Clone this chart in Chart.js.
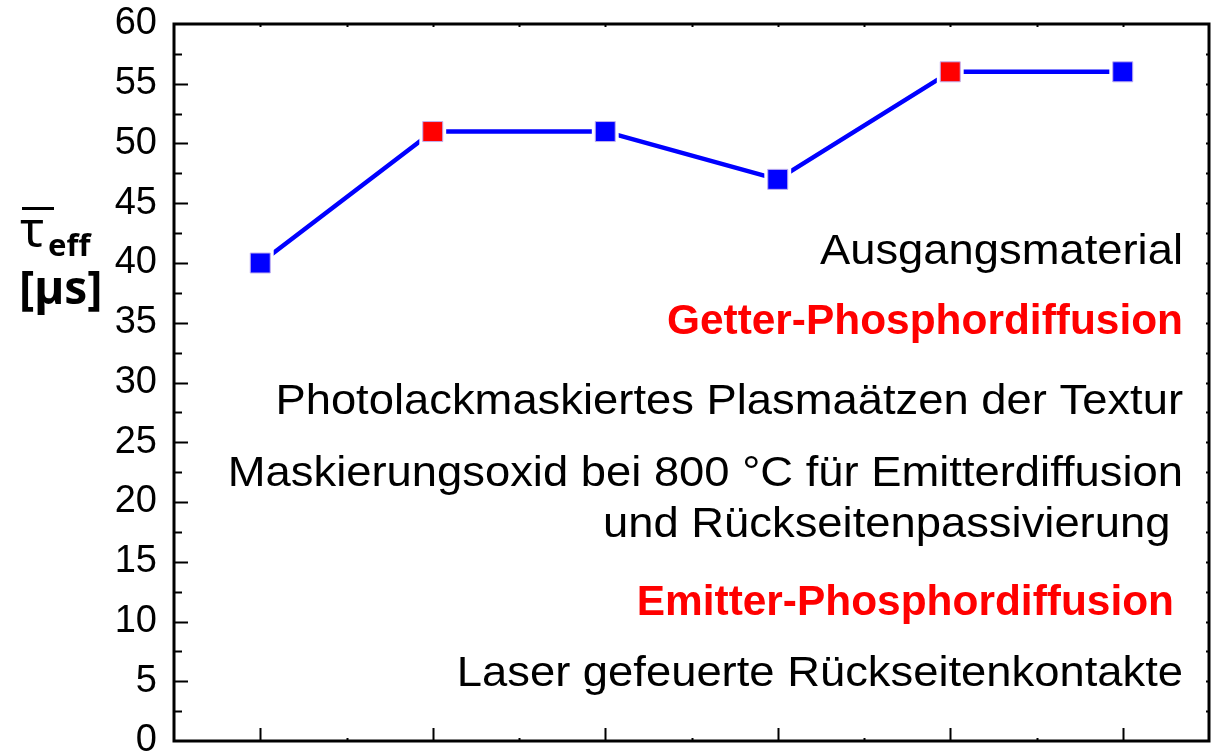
<!DOCTYPE html>
<html>
<head>
<meta charset="utf-8">
<script src="https://cdn.jsdelivr.net/npm/chart.js@4"></script>
<style>
  html, body { margin: 0; padding: 0; background: #fff; }
  canvas { display: block; }
</style>
</head>
<body>
<canvas id="c" width="1216" height="752"></canvas>
<script>
// Process steps in order (one point per step); "\n" splits a step over two lines
const steps = [
  'Ausgangsmaterial',
  'Getter-Phosphordiffusion',
  'Photolackmaskiertes Plasmaätzen der Textur',
  'Maskierungsoxid bei 800 °C für Emitterdiffusion\nund Rückseitenpassivierung ',
  'Emitter-Phosphordiffusion',
  'Laser gefeuerte Rückseitenkontakte'
];
// Mean effective lifetime after each step [µs]
const lifetime = [40, 51, 51, 47, 56, 56];
// Y axis
const yMin = 0, yMax = 60, yStep = 5;

const BLUE = '#0000ff', RED = '#ff0000';
const isDiffusion = s => s.includes('Phosphordiffusion');
const markerColors = steps.map(s => isDiffusion(s) ? RED : BLUE);

const FRAME = { left: 174, top: 24, right: 1209, bottom: 741 };

// Pin the plot area to a fixed box
const areaPlugin = {
  id: 'fixedArea',
  afterLayout(chart) {
    const ca = chart.chartArea;
    ca.left = FRAME.left; ca.top = FRAME.top; ca.right = FRAME.right; ca.bottom = FRAME.bottom;
    ca.width = FRAME.right - FRAME.left; ca.height = FRAME.bottom - FRAME.top;
    const { x, y } = chart.scales;
    Object.assign(y, { left: 0, right: FRAME.left, width: FRAME.left,
                       top: FRAME.top, bottom: FRAME.bottom, height: ca.height });
    y.configure();
    Object.assign(x, { left: FRAME.left, right: FRAME.right, width: ca.width,
                       top: FRAME.bottom, bottom: FRAME.bottom, height: 0 });
    x.configure();
  }
};

// Box frame with inward ticks on all four sides
const framePlugin = {
  id: 'frame',
  afterDraw(chart) {
    const { ctx, scales: { x, y } } = chart;
    const a = chart.chartArea;
    ctx.save();
    ctx.strokeStyle = '#000';
    ctx.lineWidth = 3;
    ctx.lineCap = 'butt';
    ctx.strokeRect(a.left, a.top, a.right - a.left, a.bottom - a.top);
    ctx.beginPath();
    for (let v = yMin + yStep / 2; v < yMax - 1e-9; v += yStep / 2) {
      const py = Math.round(y.getPixelForValue(v)) + 0.5;
      const major = Math.abs(v / yStep - Math.round(v / yStep)) < 1e-6;
      ctx.moveTo(a.left, py); ctx.lineTo(a.left + (major ? 14 : 8), py);
      ctx.moveTo(a.right, py); ctx.lineTo(a.right - 3, py);
    }
    for (let i = 0; i < steps.length; i++) {
      const px = Math.round(x.getPixelForValue(i)) + 0.5;
      ctx.moveTo(px, a.bottom); ctx.lineTo(px, a.bottom - 13);
      ctx.moveTo(px, a.top); ctx.lineTo(px, a.top + 3);
      if (i < steps.length - 1) {
        const mx = Math.round((x.getPixelForValue(i) + x.getPixelForValue(i + 1)) / 2) + 0.5;
        ctx.moveTo(mx, a.bottom); ctx.lineTo(mx, a.bottom - 3);
        ctx.moveTo(mx, a.top); ctx.lineTo(mx, a.top + 3);
      }
    }
    ctx.lineWidth = 2;
    ctx.stroke();
    ctx.restore();
  }
};

// Step list, right-aligned inside the plot
const stepBaselines = [[264], [334], [414], [486, 537], [615], [686]];
const stepsPlugin = {
  id: 'stepList',
  afterDraw(chart) {
    const { ctx } = chart;
    ctx.save();
    ctx.textAlign = 'right';
    ctx.textBaseline = 'alphabetic';
    steps.forEach((s, i) => {
      const red = isDiffusion(s);
      ctx.fillStyle = red ? RED : '#000';
      ctx.font = (red ? 'bold ' : '') + '42px "Liberation Sans", Arial, sans-serif';
      const right = red && i === 4 ? 1174 : 1183;
      const stretch = red ? 1.01 : 1.08;
      s.split('\n').forEach((line, k) => {
        ctx.save();
        ctx.translate(right, stepBaselines[i][k]);
        ctx.scale(stretch, 1);
        ctx.fillText(line, 0, 0);
        ctx.restore();
      });
    });
    ctx.restore();
  }
};

// Axis title: tau-bar_eff [µs]
const titlePlugin = {
  id: 'yTitle',
  afterDraw(chart) {
    const { ctx } = chart;
    ctx.save();
    ctx.fillStyle = '#000';
    ctx.textAlign = 'left';
    ctx.textBaseline = 'alphabetic';
    ctx.font = '50px "Noto Sans", sans-serif';
    ctx.fillText('τ', 20, 247);
    ctx.fillRect(22, 207, 32, 3);
    ctx.font = 'bold 31px "Noto Sans", sans-serif';
    ctx.fillText('eff', 48, 256);
    ctx.font = 'bold 46px "Noto Sans", sans-serif';
    ctx.fillText('[µs]', 19, 304);
    ctx.restore();
  }
};

new Chart(document.getElementById('c'), {
  type: 'line',
  data: {
    labels: steps,
    datasets: [
      {
        // markers
        data: lifetime,
        showLine: false,
        pointStyle: 'rect',
        pointRadius: 14.14,
        pointHoverRadius: 14.14,
        pointBackgroundColor: markerColors,
        pointBorderColor: '#c0b0f0',
        pointBorderWidth: 1,
        clip: false
      },
      {
        // white halo keeps the connecting line clear of the markers
        data: lifetime,
        showLine: false,
        pointStyle: 'rect',
        pointRadius: 19,
        pointHoverRadius: 19,
        pointBackgroundColor: '#fff',
        pointBorderWidth: 0,
        clip: false
      },
      {
        data: lifetime,
        borderColor: BLUE,
        borderWidth: 4.5,
        borderCapStyle: 'round',
        borderJoinStyle: 'round',
        pointRadius: 0,
        tension: 0,
        fill: false,
        clip: false
      }
    ]
  },
  options: {
    responsive: false,
    animation: false,
    events: [],
    layout: { padding: 0 },
    plugins: { legend: { display: false }, tooltip: { enabled: false }, title: { display: false } },
    scales: {
      x: { type: 'category', display: false, offset: true },
      y: {
        min: yMin, max: yMax,
        ticks: {
          stepSize: yStep,
          padding: 17,
          color: '#000',
          font: { family: '"Liberation Sans", Arial, sans-serif', size: 38 }
        },
        grid: { display: false, drawTicks: false },
        border: { display: false },
        afterFit(scale) { scale.width = FRAME.left; }
      }
    }
  },
  plugins: [areaPlugin, framePlugin, stepsPlugin, titlePlugin]
});
</script>
</body>
</html>
